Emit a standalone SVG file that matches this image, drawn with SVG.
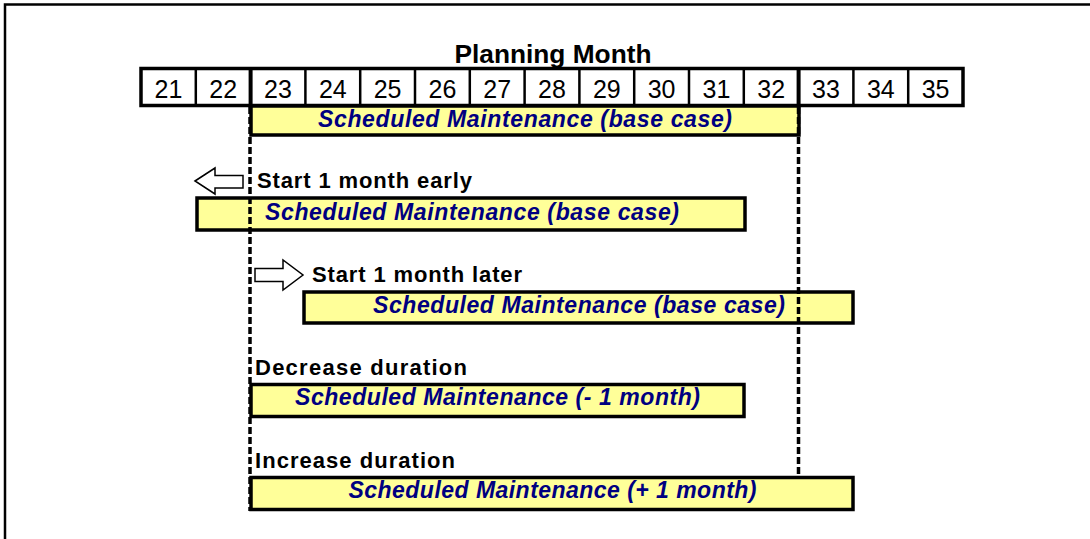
<svg xmlns="http://www.w3.org/2000/svg" width="1090" height="539" viewBox="0 0 1090 539">
<style>
  .frame{fill:none;stroke:#000;stroke-width:2.5}
  .num{font-family:"Liberation Sans",Arial,sans-serif;font-size:25px;fill:#000;text-anchor:middle}
  .title{font-family:"Liberation Sans",Arial,sans-serif;font-size:25px;font-weight:bold;fill:#000;text-anchor:middle}
  .bar{fill:#FFFF99;stroke:#000;stroke-width:3.5}
  .bartext{font-family:"Liberation Sans",Arial,sans-serif;font-size:23px;font-weight:bold;font-style:italic;fill:#000080;text-anchor:middle}
  .label{font-family:"Liberation Sans",Arial,sans-serif;font-size:22px;font-weight:bold;fill:#000}
  .dash{stroke:#000;stroke-width:3.5;stroke-dasharray:7 3;fill:none}
  .arrow{fill:#fff;stroke:#000;stroke-width:1.5;stroke-linejoin:miter}
</style>
<rect width="1090" height="539" fill="#fff"/>
<path class="frame" d="M5,539 V4.5 H1090"/>

<g id="title">
  <text class="title" x="553" y="63" textLength="197" lengthAdjust="spacingAndGlyphs">Planning Month</text>
</g>

<g id="month-grid">
  <rect x="141" y="68.5" width="822" height="37" fill="#fff" stroke="#000" stroke-width="3.5"/>
  <g stroke="#000" stroke-width="2.5">
    <line x1="195.8" y1="68" x2="195.8" y2="106"/>
    <line x1="250.6" y1="68" x2="250.6" y2="106" stroke-width="4"/>
    <line x1="305.4" y1="68" x2="305.4" y2="106"/>
    <line x1="360.2" y1="68" x2="360.2" y2="106"/>
    <line x1="415" y1="68" x2="415" y2="106"/>
    <line x1="469.8" y1="68" x2="469.8" y2="106"/>
    <line x1="524.6" y1="68" x2="524.6" y2="106"/>
    <line x1="579.4" y1="68" x2="579.4" y2="106"/>
    <line x1="634.2" y1="68" x2="634.2" y2="106"/>
    <line x1="689" y1="68" x2="689" y2="106"/>
    <line x1="743.8" y1="68" x2="743.8" y2="106"/>
    <line x1="798.6" y1="68" x2="798.6" y2="106" stroke-width="4"/>
    <line x1="853.4" y1="68" x2="853.4" y2="106"/>
    <line x1="908.2" y1="68" x2="908.2" y2="106"/>
  </g>
  <text class="num" x="168.4" y="98">21</text>
  <text class="num" x="223.2" y="98">22</text>
  <text class="num" x="278" y="98">23</text>
  <text class="num" x="332.8" y="98">24</text>
  <text class="num" x="387.6" y="98">25</text>
  <text class="num" x="442.4" y="98">26</text>
  <text class="num" x="497.2" y="98">27</text>
  <text class="num" x="552" y="98">28</text>
  <text class="num" x="606.8" y="98">29</text>
  <text class="num" x="661.6" y="98">30</text>
  <text class="num" x="716.4" y="98">31</text>
  <text class="num" x="771.2" y="98">32</text>
  <text class="num" x="826" y="98">33</text>
  <text class="num" x="880.8" y="98">34</text>
  <text class="num" x="935.6" y="98">35</text>
</g>

<g id="bar-base">
  <rect class="bar" x="251" y="106" width="548" height="29"/>
  <text class="bartext" x="525" y="127" textLength="414" lengthAdjust="spacing">Scheduled Maintenance (base case)</text>
</g>

<g id="bar-early">
  <polygon class="arrow" points="195,181 215,168 215,175.5 243,175.5 243,188 215,188 215,194"/>
  <text class="label" x="257" y="188" textLength="215" lengthAdjust="spacing">Start 1 month early</text>
  <rect class="bar" x="197" y="198" width="548" height="32"/>
  <text class="bartext" x="472" y="220" textLength="414" lengthAdjust="spacing">Scheduled Maintenance (base case)</text>
</g>

<g id="bar-later">
  <polygon class="arrow" points="255,268.5 283,268.5 283,260 303,275 283,290 283,281.5 255,281.5"/>
  <text class="label" x="312" y="282" textLength="210" lengthAdjust="spacing">Start 1 month later</text>
  <rect class="bar" x="304" y="292" width="549" height="31"/>
  <text class="bartext" x="579" y="313" textLength="412" lengthAdjust="spacing">Scheduled Maintenance (base case)</text>
</g>

<g id="bar-decrease">
  <text class="label" x="255" y="375" textLength="212" lengthAdjust="spacing">Decrease duration</text>
  <rect class="bar" x="251" y="384.5" width="493" height="32"/>
  <text class="bartext" x="497.5" y="405" textLength="405" lengthAdjust="spacing">Scheduled Maintenance (- 1 month)</text>
</g>

<g id="bar-increase">
  <text class="label" x="255" y="468" textLength="200" lengthAdjust="spacing">Increase duration</text>
  <rect class="bar" x="251" y="477.5" width="602" height="32"/>
  <text class="bartext" x="552.5" y="498" textLength="408" lengthAdjust="spacing">Scheduled Maintenance (+ 1 month)</text>
</g>

<g id="connectors">
  <line class="dash" x1="250" y1="107" x2="250" y2="511"/>
  <line class="dash" x1="798.5" y1="107" x2="798.5" y2="476"/>
</g>
</svg>
